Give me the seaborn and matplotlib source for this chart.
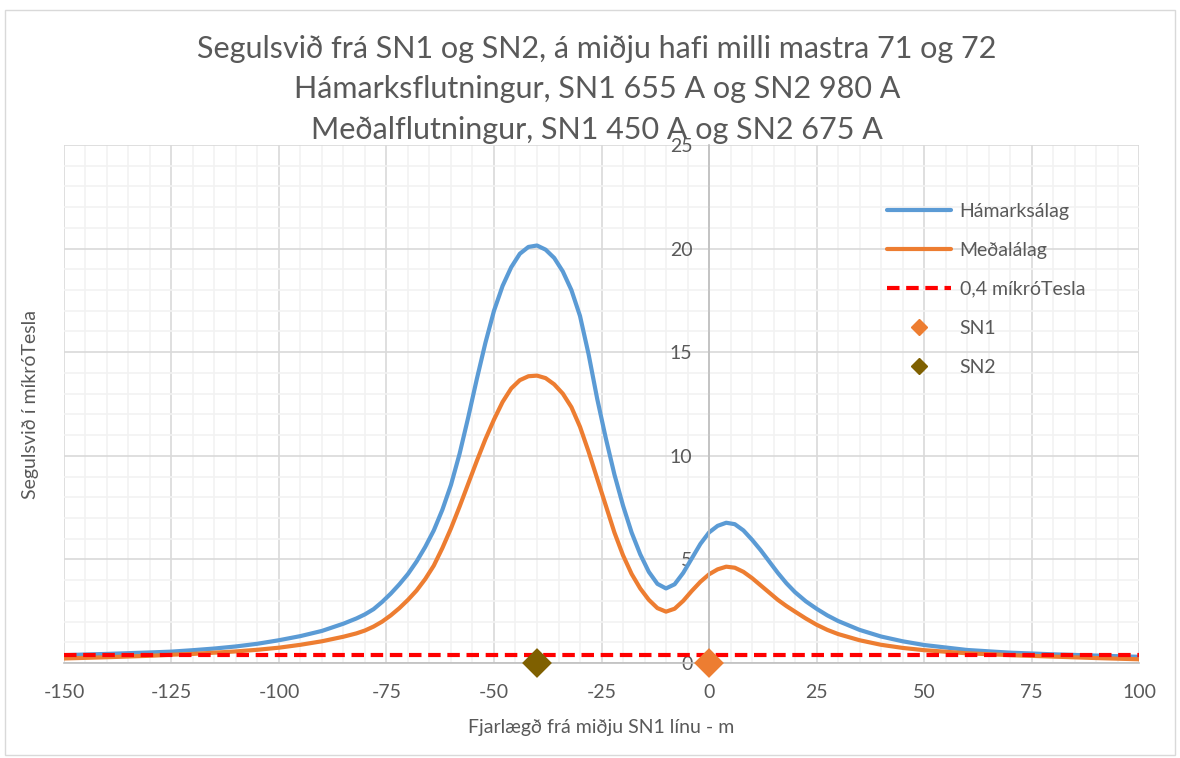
import pandas as pd
import matplotlib
matplotlib.use("Agg")
import matplotlib.pyplot as plt
import seaborn as sns
from matplotlib.lines import Line2D
from matplotlib.patches import Rectangle

# Gögn lesin af myndinni (fjarlægð í m, segulsvið í míkróTesla)
fjarlaegd = [-150, -140, -130, -125, -120, -115, -110, -105, -100, -95, -90, -85, -82, -80,
             -78, -76, -74, -72, -70, -68, -66, -64, -62, -60, -58, -56, -54, -52, -50,
             -48, -46, -44, -42, -40, -38, -36, -34, -32, -30, -28, -26, -24, -22, -20,
             -18, -16, -14, -12, -10, -8, -6, -4, -2, 0, 2, 4, 6, 8, 10, 12, 14, 16, 18,
             20, 22.5, 25, 27.5, 30, 35, 40, 45, 50, 60, 70, 80, 90, 100]
hamarksalag = [0.38, 0.44, 0.51, 0.55, 0.62, 0.7, 0.8, 0.93, 1.1, 1.3, 1.55, 1.9, 2.15, 2.35,
               2.6, 2.95, 3.35, 3.8, 4.3, 4.9, 5.6, 6.4, 7.4, 8.6, 10.1, 11.85, 13.7, 15.45, 17.0,
               18.2, 19.1, 19.75, 20.08, 20.15, 19.95, 19.55, 18.9, 18.0, 16.75, 14.9, 12.75, 10.85, 9.1, 7.6,
               6.3, 5.25, 4.4, 3.82, 3.6, 3.8, 4.35, 5.05, 5.75, 6.3, 6.62, 6.77, 6.7, 6.4, 5.95, 5.45, 4.9, 4.35, 3.85,
               3.42, 2.98, 2.62, 2.3, 2.03, 1.6, 1.28, 1.05, 0.87, 0.63, 0.5, 0.42, 0.36, 0.3]
medalalag = [0.22, 0.28, 0.35, 0.4, 0.44, 0.5, 0.56, 0.64, 0.74, 0.88, 1.05, 1.27, 1.43, 1.57,
             1.76, 2.0, 2.3, 2.65, 3.05, 3.5, 4.05, 4.7, 5.55, 6.5, 7.55, 8.65, 9.75, 10.8, 11.75,
             12.6, 13.25, 13.65, 13.84, 13.87, 13.75, 13.45, 13.0, 12.35, 11.4, 10.2, 8.9, 7.6, 6.3, 5.2,
             4.3, 3.6, 3.05, 2.65, 2.48, 2.62, 3.0, 3.48, 3.92, 4.28, 4.52, 4.65, 4.6, 4.4, 4.1, 3.75, 3.4, 3.05, 2.75,
             2.48, 2.15, 1.85, 1.6, 1.4, 1.1, 0.88, 0.73, 0.62, 0.47, 0.38, 0.31, 0.24, 0.18]
mork_x = [-150, 100]
mork_y = [0.4, 0.4]
sn_nafn = ["SN1", "SN2"]
sn_x = [0, -40]
sn_y = [0, 0]

c_blue = "#5B9BD5"
c_orange = "#ED7D31"
c_red = "#FF0000"
c_sn2 = "#7F6000"
txt = "#595959"

df = pd.DataFrame({
    "x": fjarlaegd * 2,
    "y": hamarksalag + medalalag,
    "Álag": ["Hámarksálag"] * len(fjarlaegd) + ["Meðalálag"] * len(fjarlaegd),
})
df_sn = pd.DataFrame({"x": sn_x, "y": sn_y, "Strengur": sn_nafn})

sns.set_theme(style="white")
plt.rcParams["font.family"] = ["Lato", "DejaVu Sans"]
plt.rcParams["axes.unicode_minus"] = False

fig = plt.figure(figsize=(11.8, 7.58), dpi=100)
ax = fig.add_axes([0.0542, 0.1253, 0.9111, 0.6834])

# rammi utan um myndina
fig.patches.append(Rectangle((0.004, 0.004), 0.992, 0.983, transform=fig.transFigure,
                             fill=False, edgecolor="#d9d9d9", lw=1))

sns.lineplot(data=df, x="x", y="y", hue="Álag", sort=False, ax=ax, lw=3,
             palette={"Hámarksálag": c_blue, "Meðalálag": c_orange}, legend=False)
ax.plot(mork_x, mork_y, color=c_red, lw=3, ls=(0, (3, 1.6)), zorder=4)
sns.scatterplot(data=df_sn, x="x", y="y", hue="Strengur", marker="D", s=230,
                palette={"SN1": c_orange, "SN2": c_sn2}, edgecolor="none",
                ax=ax, legend=False, clip_on=False, zorder=5)

ax.set_xlim(-150, 100)
ax.set_ylim(0, 25)
ax.set_xticks(range(-150, 101, 25))
ax.set_yticks(range(0, 26, 5))
ax.set_xticks(range(-150, 101, 5), minor=True)
ax.set_yticks(range(0, 26, 1), minor=True)
ax.grid(which="major", color="#d9d9d9", lw=1.2)
ax.grid(which="minor", color="#f2f2f2", lw=1.2)
ax.set_axisbelow(True)

for s in ["top", "right"]:
    ax.spines[s].set_visible(False)
ax.spines["left"].set_position(("data", 0))
ax.spines["left"].set_color("#bfbfbf")
ax.spines["left"].set_linewidth(1.2)
ax.spines["bottom"].set_color("#bfbfbf")
ax.spines["bottom"].set_linewidth(1.2)
ax.tick_params(axis="both", which="both", length=0, labelsize=14, labelcolor=txt)
ax.tick_params(axis="x", pad=15)
ax.tick_params(axis="y", pad=12)

ax.set_xlabel("Fjarlægð frá miðju SN1 línu - m", fontsize=14, color=txt, labelpad=13)
ax.set_ylabel("")
fig.text(0.026, 0.467, "Segulsvið í míkróTesla", rotation=90, fontsize=14, color=txt,
         ha="center", va="center")

fig.text(0.506, 0.935, "Segulsvið frá SN1 og SN2, á miðju hafi milli mastra 71 og 72",
         fontsize=22, color=txt, ha="center", va="center")
fig.text(0.506, 0.882, "Hámarksflutningur, SN1 655 A og SN2 980 A",
         fontsize=22, color=txt, ha="center", va="center")
fig.text(0.506, 0.829, "Meðalflutningur, SN1 450 A og SN2 675 A",
         fontsize=22, color=txt, ha="center", va="center")

handles = [
    Line2D([], [], color=c_blue, lw=3),
    Line2D([], [], color=c_orange, lw=3),
    Line2D([], [], color=c_red, lw=3, ls=(0, (3, 1.6))),
    Line2D([], [], color=c_orange, marker="D", ls="none", ms=8),
    Line2D([], [], color=c_sn2, marker="D", ls="none", ms=8),
]
labels = ["Hámarksálag", "Meðalálag", "0,4 míkróTesla", "SN1", "SN2"]
leg = ax.legend(handles, labels, loc="upper left", bbox_to_anchor=(0.749, 0.922),
                frameon=False, fontsize=14, handlelength=3.3, handletextpad=0.45,
                labelspacing=1.13)
for t in leg.get_texts():
    t.set_color(txt)

fig.savefig("out.png", dpi=100)
